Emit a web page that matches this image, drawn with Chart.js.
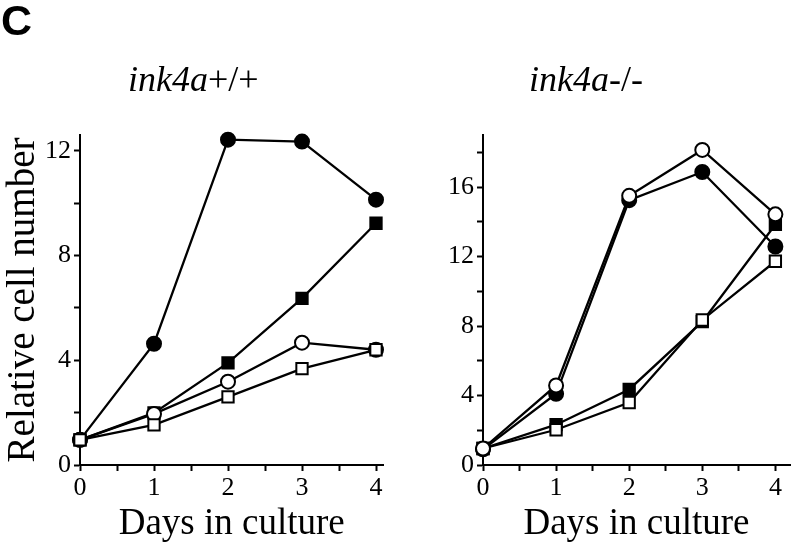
<!DOCTYPE html>
<html>
<head>
<meta charset="utf-8">
<script src="https://cdn.jsdelivr.net/npm/chart.js@4.4.1/dist/chart.umd.min.js"></script>
<style>
  body { margin: 0; background: #fff; }
  #wrap { position: relative; width: 800px; height: 546px; overflow: hidden; background: #fff; }
  canvas { position: absolute; top: 0; }
  #leftChart { left: 0; }
  #rightChart { left: 400px; }
  .panel-letter {
    position: absolute; left: 1px; top: -4px;
    font: bold 43px "Liberation Sans", Arial, sans-serif; color: #000;
  }
  .panel-title {
    position: absolute; top: 58px; line-height: 1;
    font: 36px "Liberation Serif", "Times New Roman", serif; color: #000;
    white-space: nowrap;
  }
  .panel-title i { font-style: italic; }
</style>
</head>
<body>
<div id="wrap">
  <canvas id="leftChart" width="400" height="546"></canvas>
  <canvas id="rightChart" width="400" height="546"></canvas>
  <div class="panel-letter">C</div>
  <div class="panel-title" style="left:128px"><i>ink4a</i>+/+</div>
  <div class="panel-title" style="left:529px"><i>ink4a</i>-/-</div>
</div>
<script>
const days = [0, 1, 2, 3, 4];

// ink4a +/+
const wtFilledCircle = [0.96, 4.63, 12.42, 12.35, 10.13];
const wtFilledSquare = [0.96, 1.99, 3.9, 6.36, 9.23];
const wtOpenCircle = [0.96, 1.95, 3.18, 4.67, 4.4];
const wtOpenSquare = [0.96, 1.53, 2.6, 3.68, 4.4];

// ink4a -/-
const koFilledCircle = [0.9, 4.1, 15.25, 16.87, 12.58];
const koOpenCircle = [0.95, 4.58, 15.5, 18.14, 14.43];
const koFilledSquare = [0.95, 2.32, 4.35, 8.25, 13.85];
const koOpenSquare = [0.95, 2.03, 3.6, 8.35, 11.73];

const xTickLabels = ["0", "1", "2", "3", "4"];
const leftYLabels = [0, 4, 8, 12];
const rightYLabels = [0, 4, 8, 12, 16];

const serif = "'Liberation Serif', 'Times New Roman', serif";

function toPoints(values) {
  return days.map((d, i) => ({ x: d, y: values[i] }));
}

function series(values, shape, filled) {
  return {
    data: toPoints(values),
    borderColor: "#000",
    borderWidth: 2.3,
    pointStyle: shape,
    pointRadius: shape === "rect" ? 8 : 7,
    pointBorderWidth: 2,
    pointBorderColor: "#000",
    pointBackgroundColor: filled ? "#000" : "#fff",
    tension: 0,
    clip: false
  };
}

function makeOptions(yMax, yLabels, xMax, yWidth, showYTitle) {
  return {
    responsive: false,
    animation: false,
    events: [],
    layout: { padding: { top: 135, right: 400 - yWidth - xMax * 74, left: 0, bottom: 0 } },
    plugins: { legend: { display: false }, tooltip: { enabled: false } },
    scales: {
      x: {
        type: "linear",
        min: 0,
        max: xMax,
        border: { display: true, color: "#000", width: 2 },
        grid: { drawOnChartArea: false, drawTicks: true, tickLength: 6, tickColor: "#000", tickWidth: 2 },
        ticks: {
          stepSize: 0.5,
          includeBounds: false,
          autoSkip: false,
          maxRotation: 0,
          padding: 2,
          color: "#000",
          font: { family: serif, size: 26 },
          callback: v => Number.isInteger(v) ? xTickLabels[v] : ""
        },
        title: {
          display: true,
          text: "Days in culture",
          color: "#000",
          font: { family: serif, size: 37 },
          padding: { top: 0, bottom: 0 }
        },
        afterFit: scale => { scale.height = 81; }
      },
      y: {
        min: 0,
        max: yMax,
        border: { display: true, color: "#000", width: 2 },
        grid: { drawOnChartArea: false, drawTicks: true, tickLength: 6, tickColor: "#000", tickWidth: 2 },
        ticks: {
          stepSize: 2,
          includeBounds: false,
          autoSkip: false,
          padding: 3,
          color: "#000",
          font: { family: serif, size: 26 },
          callback: v => yLabels.includes(v) ? String(v) : ""
        },
        title: {
          display: showYTitle,
          text: "Relative cell number",
          color: "#000",
          font: { family: serif, size: 39 },
          padding: { top: 0, bottom: 0 }
        },
        afterFit: scale => { scale.width = yWidth; }
      }
    }
  };
}

new Chart(document.getElementById("leftChart"), {
  type: "line",
  data: {
    datasets: [
      series(wtOpenSquare, "rect", false),
      series(wtOpenCircle, "circle", false),
      series(wtFilledSquare, "rect", true),
      series(wtFilledCircle, "circle", true)
    ]
  },
  options: makeOptions(12.6, leftYLabels, 4.1, 80, true)
});

new Chart(document.getElementById("rightChart"), {
  type: "line",
  data: {
    datasets: [
      series(koOpenCircle, "circle", false),
      series(koOpenSquare, "rect", false),
      series(koFilledCircle, "circle", true),
      series(koFilledSquare, "rect", true)
    ]
  },
  options: makeOptions(19, rightYLabels, 4.2, 83, false)
});
</script>
</body>
</html>
